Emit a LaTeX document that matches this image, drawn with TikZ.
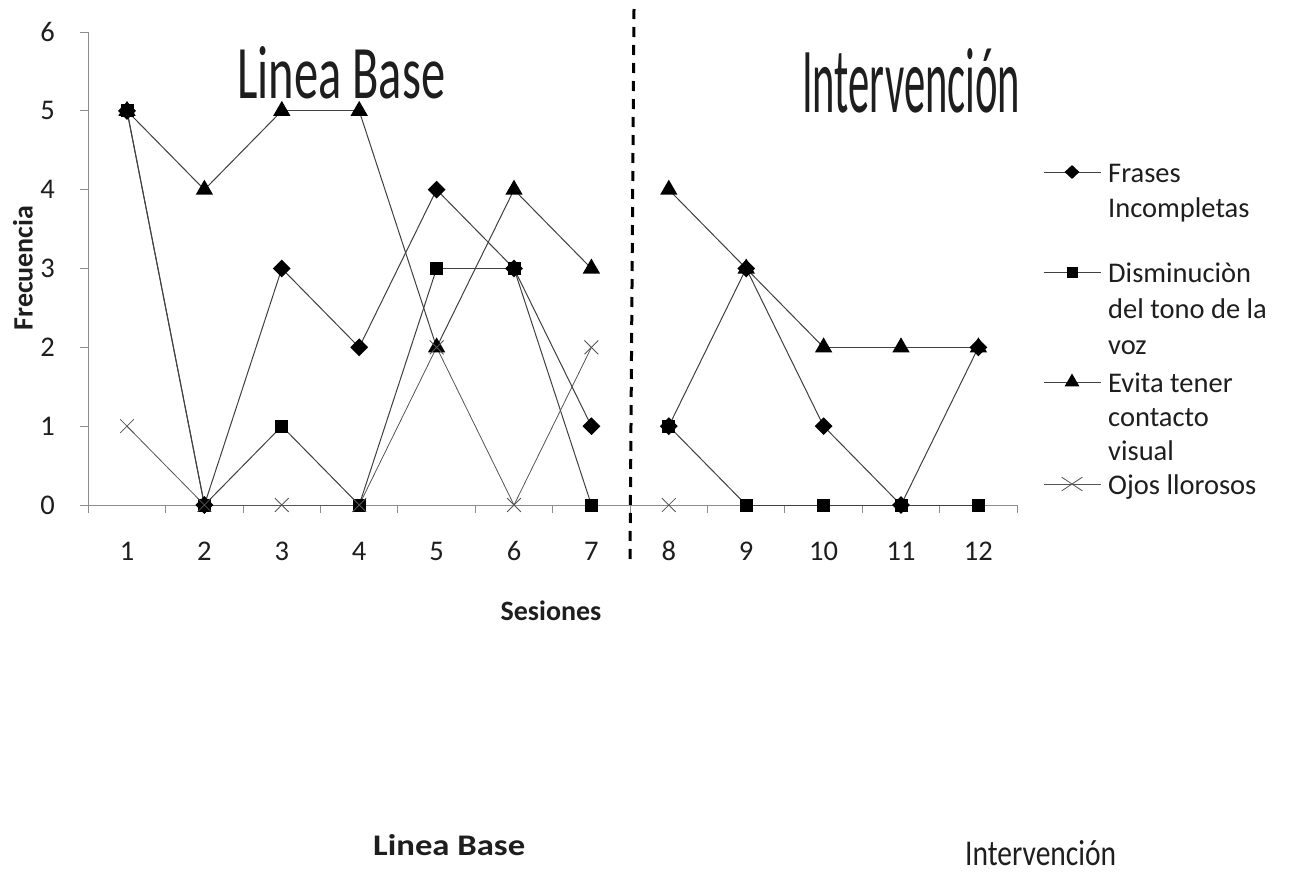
\documentclass[tikz,border=0pt]{standalone}
\usepackage{fontspec}
\setmainfont{Carlito}
\usetikzlibrary{shapes.geometric,shapes.misc}
\pgfdeclarelayer{bg}
\pgfsetlayers{bg,main}
\definecolor{serline}{HTML}{404040}
\definecolor{axisgray}{HTML}{8C8C8C}
\definecolor{xgray}{HTML}{555555}
\definecolor{txt}{HTML}{1E1E1E}
\tikzset{
  dmark/.style={diamond, fill=black, inner sep=0pt, minimum width=18pt, minimum height=18pt},
  smark/.style={rectangle, fill=black, inner sep=0pt, minimum size=13pt},
  tmark/.style={regular polygon, regular polygon sides=3, fill=black, inner sep=0pt, minimum size=20pt},
  xmark/.style={cross out, draw=xgray, line width=0.8pt, inner sep=0pt, minimum size=13pt},
  ldmark/.style={diamond, fill=black, inner sep=0pt, minimum width=15pt, minimum height=14pt},
  lsmark/.style={rectangle, fill=black, inner sep=0pt, minimum size=11pt},
  ltmark/.style={regular polygon, regular polygon sides=3, fill=black, inner sep=0pt, minimum size=17pt},
  lxmark/.style={cross out, draw=xgray, line width=0.8pt, inner sep=0pt, minimum width=20pt, minimum height=13pt},
  ser/.style={draw=serline, line width=1pt},
  xser/.style={draw=xgray, line width=0.8pt},
  axisline/.style={draw=axisgray, line width=1pt},
  lbl/.style={font=\fontsize{28.5}{34}\selectfont, text=txt, inner sep=0pt},
  blbl/.style={font=\bfseries\fontsize{28}{34}\selectfont, text=txt, inner sep=0pt},
  leg/.style={font=\fontsize{28.5}{34}\selectfont, text=txt, inner sep=0pt, anchor=base west},
}
\begin{document}
\begin{tikzpicture}[x=1pt,y=-1pt]
\useasboundingbox (0,0) rectangle (1289,873);
\begin{pgfonlayer}{bg}
  \fill[white] (0,0) rectangle (1289,873);
\end{pgfonlayer}

% data markers (series order: diamond, square, triangle, cross)
\foreach \v [count=\i] in {5,0,3,2,4,3,1,1,3,1,0,2}
  \node[dmark] (d\i) at ({49.6+77.4*\i},{505-78.83*\v}) {};
\foreach \v [count=\i] in {5,0,1,0,3,3,0,1,0,0,0,0}
  \node[smark] (s\i) at ({49.6+77.4*\i},{505-78.83*\v}) {};
\foreach \v [count=\i] in {5,4,5,5,2,4,3,4,3,2,2,2}
  \node[tmark] (t\i) at ({49.6+77.4*\i},{505-78.83*\v}) {};
\foreach \v [count=\i] in {1,0,0,0,2,0,2,0}
  \node[xmark] (x\i) at ({49.6+77.4*\i},{505-78.83*\v}) {};

\begin{pgfonlayer}{bg}
  % axes
  \draw[axisline] (88.3,32) -- (88.3,505) -- (1017,505);
  \foreach \v in {0,...,6}
    \draw[axisline] (80,{505-78.83*\v}) -- (88.3,{505-78.83*\v});
  \foreach \k in {0,...,12}
    \draw[axisline] ({88.3+77.4*\k},505) -- ({88.3+77.4*\k},513);
  % series lines
  \foreach \a/\b in {1/2,2/3,3/4,4/5,5/6,6/7,8/9,9/10,10/11,11/12} {
    \draw[ser] (d\a.center) -- (d\b.center);
    \draw[ser] (s\a.center) -- (s\b.center);
    \draw[ser] (t\a.center) -- (t\b.center);
  }
  \foreach \a/\b in {1/2,2/3,3/4,4/5,5/6,6/7}
    \draw[xser] (x\a.center) -- (x\b.center);
\end{pgfonlayer}

% axis labels
\foreach \v in {0,...,6}
  \node[lbl, anchor=east] (yl\v) at (55,{505-78.83*\v}) {\v};
\foreach \i in {1,...,12}
  \node[lbl] (xl\i) at ({49.6+77.4*\i},551) {\i};
\node[blbl] (xtitle) at (551,611) {Sesiones};
\node[blbl, rotate=90] (ytitle) at (23,268) {Frecuencia};

% phase divider
\coordinate (divtop) at (634,9);
\coordinate (divbot) at (630,562);
\draw[black, line width=3pt, dash pattern=on 10pt off 8pt] (divtop) -- (divbot);

% phase titles
\node[anchor=south west, inner sep=0pt, text=txt] (title1) at (237,99)
  {\resizebox{208pt}{52pt}{\fontsize{80}{80}\selectfont Linea Base}};
\node[anchor=south west, inner sep=0pt, text=txt] (title2) at (802,113)
  {\resizebox{218pt}{64pt}{\fontsize{100}{100}\selectfont Intervenci\smash{ó}n}};
\node[anchor=south west, inner sep=0pt, text=txt] (foot1) at (373,856)
  {\resizebox{152pt}{21pt}{\bfseries Linea Base}};
\node[anchor=south west, inner sep=0pt, text=txt] (foot2) at (965,866)
  {\resizebox{151pt}{25pt}{Intervención}};

% legend
\foreach \y/\n in {172/1,272/2,382/3,484/4} {
  \coordinate (la\n) at (1044,\y);
  \coordinate (lb\n) at (1101,\y);
}
\draw[ser] (la1) -- (lb1);
\draw[ser] (la2) -- (lb2);
\draw[ser] (la3) -- (lb3);
\draw[xser] (la4) -- (lb4);
\node[ldmark] (lm1) at (1072,172) {};
\node[lsmark] (lm2) at (1072,272) {};
\node[ltmark] (lm3) at (1072,382) {};
\node[lxmark] (lm4) at (1072,484) {};
\node[leg] (lt1) at (1108,182) {Frases};
\node[leg] (lt2) at (1108,217) {Incompletas};
\node[leg] (lt3) at (1108,282) {Disminuciòn};
\node[leg] (lt4) at (1108,318) {del tono de la};
\node[leg] (lt5) at (1108,354) {voz};
\node[leg] (lt6) at (1108,392) {Evita tener};
\node[leg] (lt7) at (1108,426) {contacto};
\node[leg] (lt8) at (1108,460) {visual};
\node[leg] (lt9) at (1108,494) {Ojos llorosos};
\end{tikzpicture}
\end{document}
